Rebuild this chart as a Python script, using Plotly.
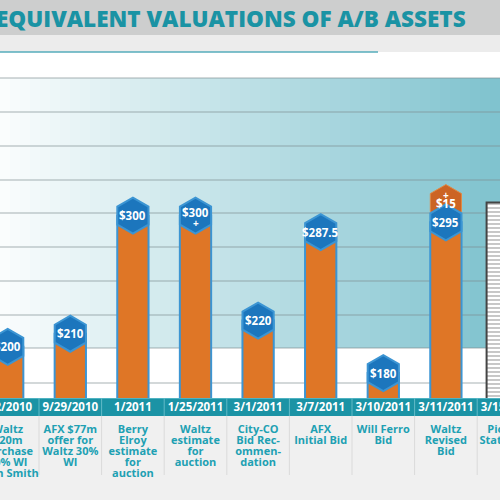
import plotly.graph_objects as go

# ---------------- data ----------------
dates = ["6/2/2010", "9/29/2010", "1/2011", "1/25/2011", "3/1/2011",
         "3/7/2011", "3/10/2011", "3/11/2011", "3/15/2011"]
descriptions = [
    ["Waltz", "$20m", "purchase", "30% WI", "from Smith"],
    ["AFX $77m", "offer for", "Waltz 30%", "WI"],
    ["Berry", "Elroy", "estimate", "for", "auction"],
    ["Waltz", "estimate", "for", "auction"],
    ["City-CO", "Bid Rec-", "ommen-", "dation"],
    ["AFX", "Initial Bid"],
    ["Will Ferro", "Bid"],
    ["Waltz", "Revised", "Bid"],
    ["Pioneer", "Statement"],
]
values = [200, 210, 300, 300, 220, 287.5, 180, 295, 310]
value_labels = ["$200", "$210", "$300", "$300", "$220", "$287.5", "$180", "$295", ""]
label_suffix = ["", "", "", "+", "", "", "", "", ""]
increments = [0, 0, 0, 0, 0, 0, 0, 15, 0]
title = "EQUIVALENT VALUATIONS OF A/B ASSETS"

# ---------------- style ----------------
FONT = "Open Sans"
ORANGE = "#df7626"
ORANGE_DARK = "#cc6424"
BLUE = "#1c76bd"
BLUE_EDGE = "#3c95d3"
TEAL = "#1b93a5"
TEAL_TEXT = "#20a0b3"

# canvas is wider than the 500px window so the partly visible 9th column
# is laid out naturally and simply cut by the window edge
W, H = 540, 500
COL = 62.6          # px per category
X0 = -7.7 / COL     # first column centre sits at ~7.7px
XR = [X0, X0 + W / COL]

def py(p):  # pixel y -> paper
    return 1 - p / H

shapes = []
shapes.append(dict(type="rect", xref="paper", yref="paper", x0=0, x1=1, y0=py(35), y1=1,
                   fillcolor="#cdcece", line_width=0, layer="below"))
shapes.append(dict(type="rect", xref="paper", yref="paper", x0=0, x1=1, y0=py(52), y1=py(35),
                   fillcolor="#ececec", line_width=0, layer="below"))
shapes.append(dict(type="rect", xref="paper", yref="paper", x0=0, x1=1, y0=py(78), y1=py(52),
                   fillcolor="#ffffff", line_width=0, layer="below"))
n = 54
c0 = (250, 253, 253)
c1 = (128, 195, 207)
for i in range(n):
    t = min(1.0, i / (n * 500 / W - 1))
    c = tuple(int(c0[k] + (c1[k] - c0[k]) * t) for k in range(3))
    shapes.append(dict(type="rect", xref="paper", yref="paper",
                       x0=i / n, x1=(i + 1) / n + 0.002, y0=py(348), y1=py(78),
                       fillcolor="rgb(%d,%d,%d)" % c, line_width=0, layer="below"))
shapes.append(dict(type="rect", xref="paper", yref="paper", x0=0, x1=1, y0=py(398), y1=py(348),
                   fillcolor="#ffffff", line_width=0, layer="below"))
shapes.append(dict(type="rect", xref="paper", yref="paper", x0=0, x1=1, y0=0, y1=py(398),
                   fillcolor="#f0f0f0", line_width=0, layer="below"))
shapes.append(dict(type="line", xref="paper", yref="paper", x0=0, x1=0.7, y0=py(52), y1=py(52),
                   line=dict(color="#56adbb", width=1.5), layer="below"))
for g in [78, 112, 146, 180, 213, 247, 281, 315, 348, 383]:
    shapes.append(dict(type="line", xref="paper", yref="paper", x0=0, x1=1, y0=py(g), y1=py(g),
                       line=dict(color="rgba(125,140,145,0.45)", width=1.5), layer="below"))
shapes.append(dict(type="rect", xref="paper", yref="paper", x0=0, x1=1, y0=py(416), y1=py(398),
                   fillcolor=TEAL, line_width=0, layer="below"))
shapes.append(dict(type="line", xref="paper", yref="paper", x0=0, x1=1, y0=py(398.5), y1=py(398.5),
                   line=dict(color="#4fb3c2", width=1), layer="below"))
for i in range(len(dates) - 1):
    shapes.append(dict(type="line", xref="x", yref="paper", x0=i + 0.5, x1=i + 0.5,
                       y0=py(416), y1=py(398), line=dict(color="#63bac7", width=1), layer="below"))
    shapes.append(dict(type="line", xref="x", yref="paper", x0=i + 0.5, x1=i + 0.5,
                       y0=py(475), y1=py(416), line=dict(color="#dadada", width=1), layer="below"))

fig = go.Figure()

bar_colors = [ORANGE] * 8 + ["#ffffff"]
bar_lines = [BLUE_EDGE] * 8 + ["#444444"]
bar_widths = [0.5] * 8 + [0.7]
pattern_shapes = [""] * 8 + ["-"]
fig.add_trace(go.Bar(
    x=dates, y=values, width=bar_widths,
    marker=dict(color=bar_colors, line=dict(color=bar_lines, width=2),
                pattern=dict(shape=pattern_shapes, fgcolor="#333333", size=4,
                             solidity=0.3, fillmode="overlay")),
    hoverinfo="skip",
))

# increment hexagon (orange)
inc_x = [d for d, inc in zip(dates, increments) if inc > 0]
inc_y = [v + inc for v, inc in zip(values, increments) if inc > 0]
fig.add_trace(go.Scatter(
    x=inc_x, y=inc_y, mode="markers",
    marker=dict(symbol="hexagon", size=36, color=ORANGE_DARK, line=dict(color="#e08a45", width=1)),
    cliponaxis=False, hoverinfo="skip",
))

# value hexagons (blue)
hx = [d for d, l in zip(dates, value_labels) if l]
hy = [v for v, l in zip(values, value_labels) if l]
fig.add_trace(go.Scatter(
    x=hx, y=hy, mode="markers",
    marker=dict(symbol="hexagon", size=36, color=BLUE, line=dict(color=BLUE_EDGE, width=2)),
    cliponaxis=False, hoverinfo="skip",
))

annotations = []
lab_font = dict(family=FONT, size=11.5, color="white", weight="bold")
for d, v, l, s in zip(dates, values, value_labels, label_suffix):
    if not l:
        continue
    annotations.append(dict(x=d, y=v, xref="x", yref="y", text=l, showarrow=False,
                            font=lab_font, yshift=3 if s else 0))
    if s:
        annotations.append(dict(x=d, y=v, xref="x", yref="y", text=s, showarrow=False,
                                font=dict(family=FONT, size=10, color="white", weight="bold"),
                                yshift=-7))
for d, v, inc in zip(dates, values, increments):
    if inc > 0:
        annotations.append(dict(x=d, y=v + inc, xref="x", yref="y", text="$%d" % inc,
                                showarrow=False, font=lab_font, yshift=-1))
        annotations.append(dict(x=d, y=v + inc, xref="x", yref="y", text="+",
                                showarrow=False,
                                font=dict(family=FONT, size=10, color="white", weight="bold"),
                                yshift=8))

# date labels + descriptions on a full-page pixel subplot (x2/y2)
fig.add_trace(go.Scatter(
    x=dates, y=[408] * len(dates), xaxis="x2", yaxis="y2", mode="text", text=dates,
    textfont=dict(family=FONT, size=11.5, color="white", weight="bold"),
    cliponaxis=False, hoverinfo="skip",
))
dx, dy, dt = [], [], []
for d, lines in zip(dates, descriptions):
    for j, line in enumerate(lines):
        dx.append(d)
        dy.append(430 + 11 * j)
        dt.append(line)
fig.add_trace(go.Scatter(
    x=dx, y=dy, xaxis="x2", yaxis="y2", mode="text", text=dt,
    textfont=dict(family=FONT, size=11, color=TEAL_TEXT, weight="bold"),
    cliponaxis=False, hoverinfo="skip",
))

annotations.append(dict(
    text=title, xref="paper", yref="paper", x=-6 / W, y=py(18),
    xanchor="left", yanchor="middle", showarrow=False,
    font=dict(family=FONT, size=22.5, color="#1a93a4", weight=800),
))

fig.update_layout(
    width=W, height=H, margin=dict(l=0, r=0, t=0, b=0, pad=0),
    paper_bgcolor="#f0f0f0", plot_bgcolor="rgba(0,0,0,0)",
    showlegend=False, shapes=shapes, annotations=annotations, barmode="overlay",
    xaxis=dict(type="category", range=XR, visible=False, domain=[0, 1],
               categoryorder="array", categoryarray=dates),
    yaxis=dict(range=[161, 405], visible=False, domain=[py(398), py(78)]),
    xaxis2=dict(type="category", range=XR, visible=False, domain=[0, 1],
                anchor="y2", categoryorder="array", categoryarray=dates),
    yaxis2=dict(range=[500, 0], visible=False, domain=[0, 1], anchor="x2"),
)

fig.write_html("out.html", config={"displayModeBar": False},
               post_script="document.body.style.margin='0px';document.body.style.overflow='hidden';")
